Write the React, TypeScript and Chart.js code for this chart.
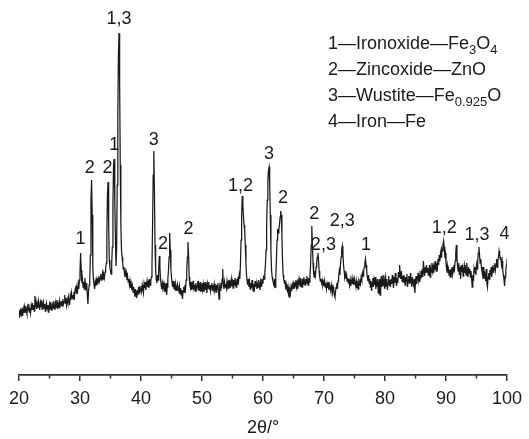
import React, { useEffect, useRef } from "react";
import { Chart, registerables } from "chart.js";

Chart.register(...registerables);

// 2θ sampling grid of the scan
const twoThetaStart = 20;
const twoThetaStep = 0.1;

// Intensity (arbitrary units), one value per 0.1° from 20° to 100°
const intensity: number[] = [
  58, 65, 60, 67, 61, 64, 59, 66, 62, 68, // 20
  63, 69, 64, 61, 68, 65, 71, 63, 67, 62, // 21
  69, 65, 72, 66, 70, 64, 79, 68, 73, 66, // 22
  71, 67, 74, 69, 65, 72, 68, 75, 66, 70, // 23
  73, 67, 71, 64, 69, 72, 66, 70, 63, 68, // 24
  71, 66, 73, 68, 64, 70, 67, 74, 69, 65, // 25
  72, 68, 75, 66, 71, 69, 74, 67, 72, 70, // 26
  74, 69, 76, 71, 73, 80, 72, 77, 70, 75, // 27
  72, 78, 74, 70, 79, 75, 82, 77, 80, 76, // 28
  83, 79, 86, 89, 82, 87, 84, 91, 86, 95, // 29
  104, 122, 105, 92, 96, 88, 93, 86, 97, 90, // 30
  85, 92, 80, 71, 84, 90, 95, 120, 175, 195, // 31
  160, 108, 96, 90, 86, 93, 89, 95, 91, 97, // 32
  93, 99, 94, 97, 101, 95, 98, 102, 96, 100, // 33
  97, 103, 106, 112, 140, 180, 193, 150, 115, 108, // 34
  104, 101, 112, 128, 170, 210, 216, 175, 140, 109, // 35
  125, 190, 260, 320, 342, 290, 210, 150, 125, 118, // 36
  112, 106, 108, 101, 104, 98, 102, 95, 99, 93, // 37
  96, 90, 94, 87, 91, 85, 89, 83, 88, 84, // 38
  78, 86, 81, 77, 85, 80, 88, 82, 86, 84, // 39
  89, 84, 90, 86, 82, 91, 87, 93, 85, 90, // 40
  94, 88, 92, 87, 96, 90, 94, 98, 110, 150, // 41
  200, 224, 185, 130, 105, 96, 92, 100, 95, 105, // 42
  119, 108, 96, 90, 86, 92, 88, 91, 84, 89, // 43
  86, 92, 80, 88, 96, 104, 118, 142, 125, 105, // 44
  98, 92, 88, 94, 86, 90, 85, 91, 88, 84, // 45
  90, 86, 84, 89, 82, 87, 80, 85, 76, 84, // 46
  88, 83, 90, 86, 95, 104, 118, 133, 120, 98, // 47
  90, 87, 93, 85, 91, 88, 94, 86, 90, 84, // 48
  92, 86, 89, 94, 85, 90, 87, 93, 83, 89, // 49
  86, 92, 84, 90, 87, 93, 85, 89, 82, 91, // 50
  87, 93, 86, 90, 84, 89, 92, 85, 90, 86, // 51
  91, 85, 88, 83, 90, 86, 92, 84, 76, 88, // 52
  85, 92, 87, 96, 106, 90, 86, 93, 88, 91, // 53
  87, 94, 89, 92, 86, 95, 88, 91, 96, 89, // 54
  93, 87, 95, 90, 97, 92, 88, 96, 91, 98, // 55
  94, 100, 96, 110, 135, 160, 179, 170, 158, 150, // 56
  145, 130, 112, 100, 94, 90, 96, 88, 93, 86, // 57
  92, 87, 95, 89, 84, 91, 87, 94, 88, 92, // 58
  86, 91, 88, 95, 90, 85, 93, 89, 96, 92, // 59
  94, 98, 96, 102, 110, 125, 150, 175, 195, 205, // 60
  208, 190, 160, 125, 105, 98, 95, 92, 90, 96, // 61
  88, 98, 115, 135, 146, 142, 145, 150, 158, 164, // 62
  160, 140, 115, 100, 96, 92, 95, 88, 91, 86, // 63
  84, 88, 80, 78, 85, 82, 88, 84, 90, 86, // 64
  91, 87, 93, 89, 95, 88, 92, 86, 94, 90, // 65
  95, 89, 97, 92, 88, 96, 91, 98, 93, 90, // 66
  96, 92, 99, 94, 90, 97, 93, 100, 110, 130, // 67
  149, 130, 112, 102, 98, 104, 100, 108, 112, 118, // 68
  122, 115, 104, 98, 94, 96, 92, 95, 90, 93, // 69
  89, 94, 88, 92, 86, 91, 87, 93, 85, 90, // 70
  87, 84, 90, 86, 82, 88, 85, 80, 78, 84, // 71
  88, 92, 86, 94, 98, 104, 100, 110, 118, 125, // 72
  129, 122, 110, 104, 98, 101, 96, 100, 94, 97, // 73
  92, 96, 90, 95, 89, 93, 97, 91, 95, 90, // 74
  96, 92, 89, 94, 87, 91, 86, 93, 90, 96, // 75
  92, 98, 95, 102, 99, 104, 108, 112, 116, 110, // 76
  104, 98, 94, 100, 92, 96, 88, 94, 84, 92, // 77
  97, 88, 95, 90, 98, 86, 93, 89, 96, 82, // 78
  91, 96, 80, 94, 99, 88, 95, 90, 100, 87, // 79
  94, 98, 89, 96, 85, 92, 99, 90, 95, 88, // 80
  96, 91, 100, 93, 87, 98, 92, 102, 94, 89, // 81
  97, 92, 103, 98, 110, 100, 96, 104, 94, 99, // 82
  93, 100, 96, 90, 98, 94, 101, 88, 95, 99, // 83
  92, 97, 102, 94, 88, 98, 93, 90, 96, 82, // 84
  94, 99, 91, 97, 102, 95, 100, 93, 98, 104, // 85
  100, 106, 98, 114, 104, 99, 108, 102, 110, 103, // 86
  107, 100, 105, 110, 98, 106, 103, 112, 104, 108, // 87
  102, 110, 106, 114, 104, 112, 108, 116, 110, 120, // 88
  114, 122, 118, 126, 124, 130, 134, 128, 120, 122, // 89
  112, 106, 110, 102, 108, 100, 105, 98, 106, 102, // 90
  108, 101, 104, 110, 106, 114, 122, 130, 118, 108, // 91
  104, 112, 100, 108, 96, 110, 103, 107, 99, 106, // 92
  110, 102, 106, 100, 112, 104, 98, 108, 102, 106, // 93
  98, 104, 96, 88, 100, 94, 106, 102, 108, 100, // 94
  110, 106, 114, 122, 128, 120, 112, 116, 108, 104, // 95
  100, 108, 96, 104, 99, 94, 106, 92, 88, 98, // 96
  102, 96, 105, 100, 108, 98, 104, 110, 102, 107, // 97
  112, 105, 110, 116, 108, 114, 118, 124, 120, 116, // 98
  118, 110, 114, 106, 100, 96, 89, 98, 104, 110, // 99
  116, // 100
];

const xMin = 20;
const xMax = 100;
const yMin = 0;
const yMax = 350;
const minorTicks = [25, 35, 45, 55, 65, 75, 85, 95];

// Phase labels above the peaks (2θ, intensity)
const peakLabelText = ["1,3", "1", "2", "2", "3", "1", "2", "2", "1,2", "3", "2", "2", "2,3", "2,3", "1", "1,2", "1,3", "4"];
const peakLabelX = [36.4, 35.6, 31.6, 34.5, 42.1, 30.1, 43.6, 47.8, 56.3, 61.0, 63.3, 68.4, 69.9, 73.0, 76.9, 89.7, 95.1, 99.6];
const peakLabelY = [356, 230, 207, 207, 235, 136, 131, 146, 189, 221, 177, 161, 130, 154, 130, 147, 140, 141];

// Phase key: [text, isSubscript]
const legendPhase1: [string, boolean][] = [["1—Ironoxide—Fe", false], ["3", true], ["O", false], ["4", true]];
const legendPhase2: [string, boolean][] = [["2—Zincoxide—ZnO", false]];
const legendPhase3: [string, boolean][] = [["3—Wustite—Fe", false], ["0.925", true], ["O", false]];
const legendPhase4: [string, boolean][] = [["4—Iron—Fe", false]];

const FONT = '"Liberation Sans", Arial, Helvetica, sans-serif';
const INK = "#1a1a1a";

const annotatePlugin = {
  id: "annotatePlugin",
  afterDatasetsDraw(chart: any) {
    const { ctx, scales } = chart;
    const x = scales.x;
    const y = scales.y;
    ctx.save();
    // minor ticks
    ctx.strokeStyle = "#333";
    ctx.lineWidth = 1.5;
    minorTicks.forEach((v) => {
      const px = Math.round(x.getPixelForValue(v)) + 0.5;
      ctx.beginPath();
      ctx.moveTo(px, x.top);
      ctx.lineTo(px, x.top + 3.5);
      ctx.stroke();
    });
    // peak labels
    ctx.fillStyle = INK;
    ctx.font = `18px ${FONT}`;
    ctx.textAlign = "center";
    ctx.textBaseline = "middle";
    peakLabelText.forEach((t, i) => {
      ctx.fillText(t, x.getPixelForValue(peakLabelX[i]), y.getPixelForValue(peakLabelY[i]));
    });
    // phase key
    ctx.textAlign = "left";
    ctx.textBaseline = "alphabetic";
    const lines = [legendPhase1, legendPhase2, legendPhase3, legendPhase4];
    const left = 328;
    const firstBaseline = 48.5;
    const gap = 26.3;
    lines.forEach((parts, li) => {
      let cx = left;
      const base = firstBaseline + li * gap;
      parts.forEach(([t, sub]) => {
        ctx.font = sub ? `13px ${FONT}` : `18px ${FONT}`;
        ctx.fillText(t, cx, sub ? base + 5 : base);
        cx += ctx.measureText(t).width;
      });
    });
    ctx.restore();
  },
};

export default function App() {
  const canvasRef = useRef<HTMLCanvasElement | null>(null);

  useEffect(() => {
    const canvas = canvasRef.current;
    if (!canvas) return;
    const points = intensity.map((v, i) => ({
      x: +(twoThetaStart + i * twoThetaStep).toFixed(1),
      y: v,
    }));
    const chart = new Chart(canvas, {
      type: "line",
      data: {
        datasets: [
          {
            data: points,
            borderColor: INK,
            borderWidth: 1.25,
            pointRadius: 0,
            tension: 0,
            fill: false,
          },
        ],
      },
      options: {
        animation: false,
        responsive: false,
        devicePixelRatio: 1,
        layout: { padding: { top: 25, left: 19, right: 22, bottom: 0 } },
        plugins: { legend: { display: false }, tooltip: { enabled: false } },
        scales: {
          x: {
            type: "linear",
            min: xMin,
            max: xMax,
            afterFit: (scale: any) => {
              scale.height = 64;
            },
            border: { display: true, color: "#333", width: 1.8 },
            grid: {
              display: true,
              drawOnChartArea: false,
              drawTicks: true,
              tickLength: 6,
              color: "#333",
              lineWidth: 1.5,
            },
            ticks: {
              stepSize: 10,
              autoSkip: false,
              maxRotation: 0,
              padding: 7,
              color: INK,
              font: { family: FONT, size: 18 },
            },
            title: {
              display: true,
              text: "2θ/°",
              color: INK,
              font: { family: FONT, size: 18, lineHeight: 1 },
              padding: { top: 0, bottom: 2 },
            },
          },
          y: {
            type: "linear",
            display: false,
            min: yMin,
            max: yMax,
          },
        },
      },
      plugins: [annotatePlugin],
    });
    return () => chart.destroy();
  }, []);

  return (
    <div style={{ position: "absolute", left: 0, top: 0, width: 529, height: 439, background: "#fff" }}>
      <canvas ref={canvasRef} width={529} height={439} style={{ width: 529, height: 439, display: "block" }} />
    </div>
  );
}
